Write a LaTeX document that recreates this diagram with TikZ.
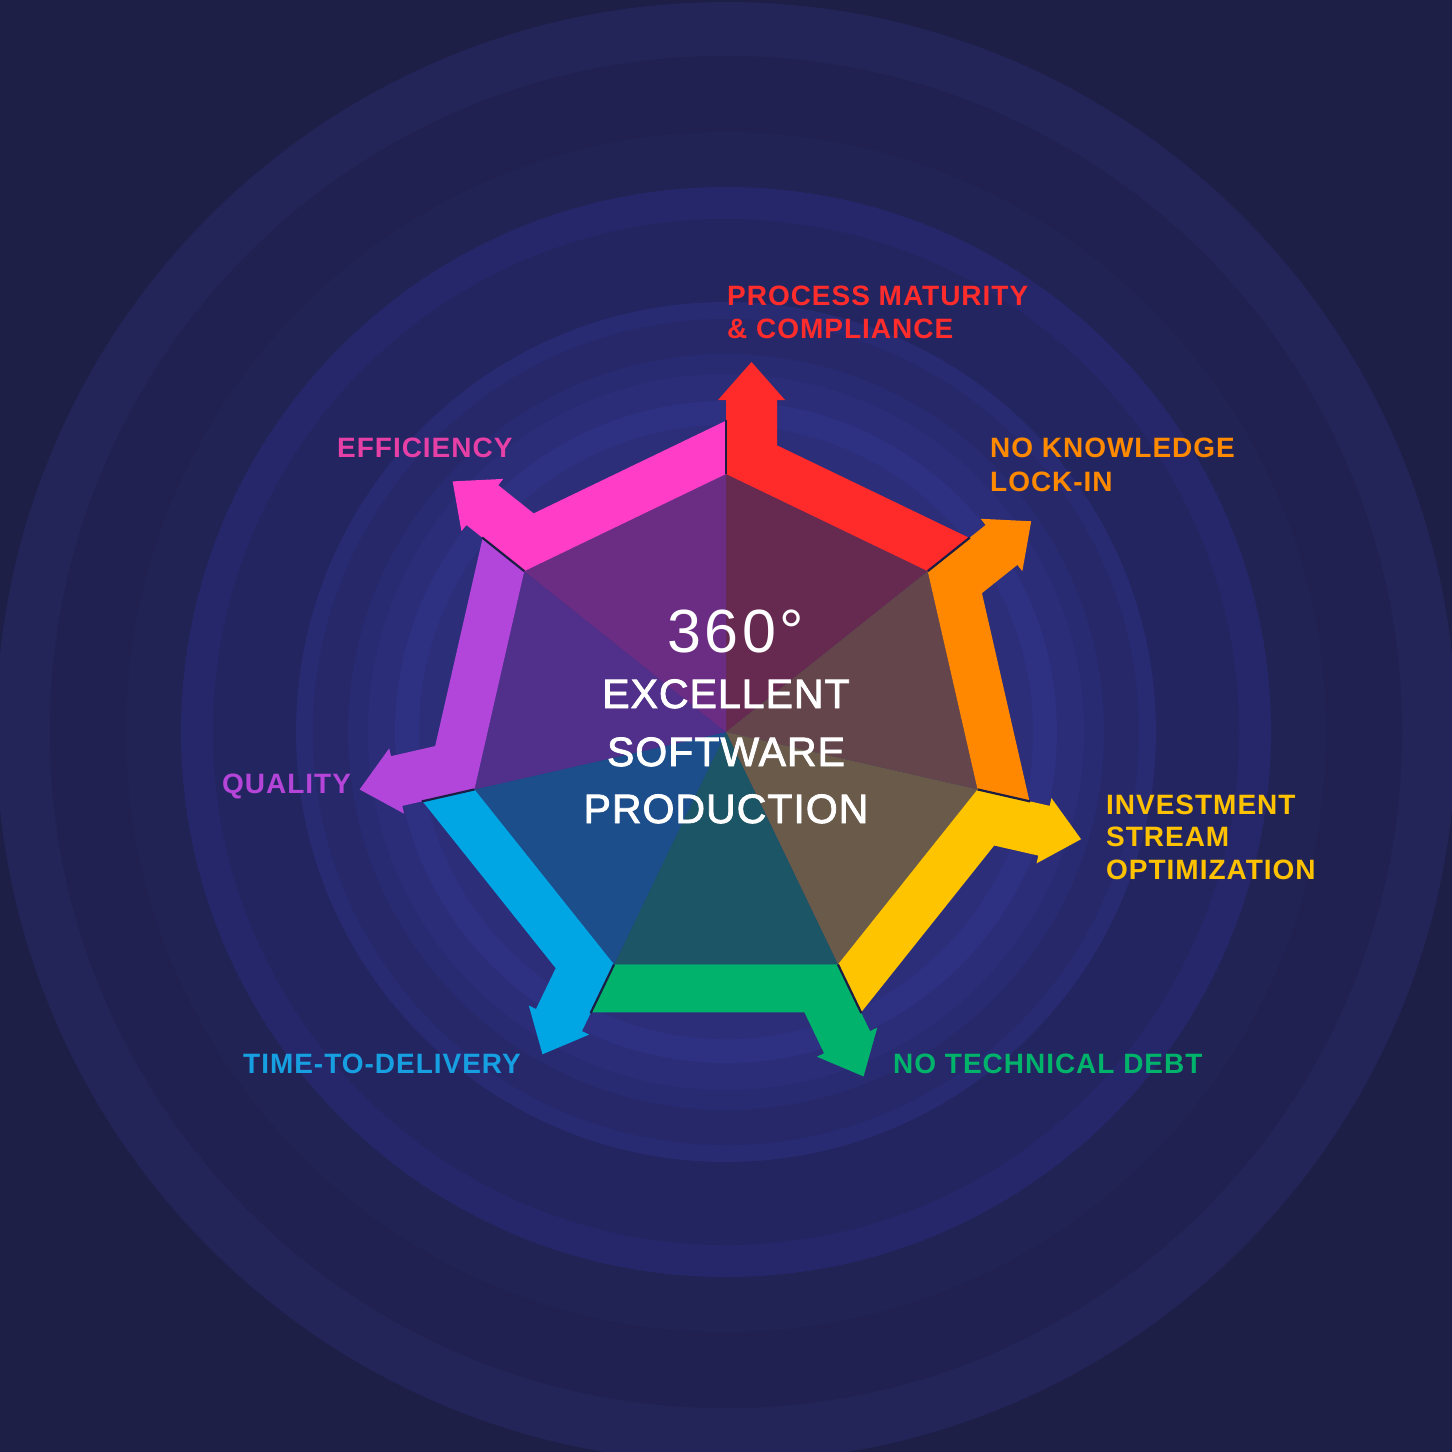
\documentclass[tikz,border=0pt]{standalone}
\usepackage{fontspec}
\setmainfont{Liberation Sans}
\newfontfamily\lblfont[LetterSpace=3.5]{Liberation Sans}
\newfontfamily\ctrfont[LetterSpace=2.5,FakeBold=2]{Liberation Sans}
\newfontfamily\degfont[LetterSpace=6]{Liberation Sans}
\definecolor{bgA}{HTML}{1E1F47}
\definecolor{bgB}{HTML}{232457}
\definecolor{bgC}{HTML}{202150}
\definecolor{bgD}{HTML}{222355}
\definecolor{bgE}{HTML}{25276A}
\definecolor{bgF}{HTML}{232560}
\definecolor{bgG}{HTML}{282A72}
\definecolor{bgH}{HTML}{26286A}
\definecolor{bgI}{HTML}{292B72}
\definecolor{bgJ}{HTML}{2B2D79}
\definecolor{bgK}{HTML}{2E3081}
\definecolor{bgL}{HTML}{2C2E7A}
\definecolor{sepcol}{HTML}{1C1D45}
\definecolor{cRed}{HTML}{FF2A2A}
\definecolor{cOrange}{HTML}{FF8800}
\definecolor{cYellow}{HTML}{FFC400}
\definecolor{cGreen}{HTML}{00B26B}
\definecolor{cBlue}{HTML}{00A6E4}
\definecolor{cPurple}{HTML}{B245DA}
\definecolor{cMagenta}{HTML}{FF3DC6}
\definecolor{tRed}{HTML}{66294F}
\definecolor{tOrange}{HTML}{64454B}
\definecolor{tYellow}{HTML}{6A5A4A}
\definecolor{tGreen}{HTML}{1C5565}
\definecolor{tBlue}{HTML}{1C4E8C}
\definecolor{tPurple}{HTML}{50308A}
\definecolor{tMagenta}{HTML}{6B2D84}
\definecolor{lRed}{HTML}{FF2C2C}
\definecolor{lOrange}{HTML}{FF8A00}
\definecolor{lYellow}{HTML}{FFC200}
\definecolor{lGreen}{HTML}{00B36B}
\definecolor{lBlue}{HTML}{17A0E1}
\definecolor{lPurple}{HTML}{B445D8}
\definecolor{lMagenta}{HTML}{E63FA5}
\begin{document}
\begin{tikzpicture}[x=1pt,y=-1pt,
  lbl/.style={inner sep=0pt, anchor=base west, font=\lblfont\bfseries\fontsize{28}{30}\selectfont},
  ctr/.style={inner sep=0pt, anchor=base, text=white, font=\ctrfont\fontsize{41}{44}\selectfont},
  sepline/.style={draw=sepcol, line width=2.2pt},
]
\useasboundingbox (0,0) rectangle (1452,1452);
\fill[bgA] (0,0) rectangle (1452,1452);
\foreach \r/\c in {730/bgB, 676/bgC, 600/bgD, 545/bgE, 513/bgF, 430/bgG, 413/bgH, 378/bgI, 358/bgJ, 331/bgK, 307/bgL}
  \fill[\c] (726,732) circle[radius=\r];
\coordinate (O) at (726,732);
% triangles and bands
\foreach \k/\bc/\tc in {0/cRed/tRed, 1/cOrange/tOrange, 2/cYellow/tYellow, 3/cGreen/tGreen, 4/cBlue/tBlue, 5/cPurple/tPurple, 6/cMagenta/tMagenta} {
  \pgfmathsetmacro\aa{\k*360/7}
  \pgfmathsetmacro\bb{(\k+1)*360/7}
  \pgfmathsetmacro\sa{sin(\aa)}
  \pgfmathsetmacro\ca{cos(\aa)}
  \pgfmathsetmacro\vx{726+258*\sa}
  \pgfmathsetmacro\vy{732-258*\ca}
  \pgfmathsetmacro\wx{726+258*sin(\bb)}
  \pgfmathsetmacro\wy{732-258*cos(\bb)}
  \pgfmathsetmacro\ex{726+311.3*sin(\bb)}
  \pgfmathsetmacro\ey{732-311.3*cos(\bb)}
  \coordinate (V\k) at (\vx,\vy);
  \coordinate (W\k) at (\wx,\wy);
  \coordinate (E\k) at (\ex,\ey);
  \coordinate (A\k) at ({\vx+74*\sa},{\vy-74*\ca});
  \coordinate (B\k) at ({\vx+74*\sa-8*\ca},{\vy-74*\ca-8*\sa});
  \coordinate (T\k) at ({\vx+112*\sa+25.5*\ca},{\vy-112*\ca+25.5*\sa});
  \coordinate (D\k) at ({\vx+74*\sa+59*\ca},{\vy-74*\ca+59*\sa});
  \coordinate (F\k) at ({\vx+74*\sa+51*\ca},{\vy-74*\ca+51*\sa});
  \coordinate (C\k) at ({\vx+28.7*\sa+51*\ca},{\vy-28.7*\ca+51*\sa});
  \coordinate (S\k) at ({\vx+54*\sa},{\vy-54*\ca});
  \fill[\tc] (O) -- (V\k) -- (W\k) -- cycle;
  \fill[\bc] (V\k) -- (A\k) -- (B\k) -- (T\k) -- (D\k) -- (F\k) -- (C\k) -- (E\k) -- (W\k) -- cycle;
}
\foreach \k in {0,...,6} \draw[sepline] (V\k) -- (S\k);
% centre text
\node[inner sep=0pt, anchor=base west, text=white, font=\degfont\fontsize{61}{63}\selectfont] (deg) at (667,652) {360°};
\node[ctr] (exc) at (726,708) {EXCELLENT};
\node[ctr] (sw) at (726,766) {SOFTWARE};
\node[ctr] (prod) at (726,823) {PRODUCTION};
% labels
\node[lbl, text=lRed] (pm1) at (727,305) {PROCESS MATURITY};
\node[lbl, text=lRed] (pm2) at (727,338) {\& COMPLIANCE};
\node[lbl, text=lOrange] (nk1) at (990,457) {NO KNOWLEDGE};
\node[lbl, text=lOrange] (nk2) at (990,491) {LOCK-IN};
\node[lbl, text=lYellow] (is1) at (1106,814) {INVESTMENT};
\node[lbl, text=lYellow] (is2) at (1106,846) {STREAM};
\node[lbl, text=lYellow] (is3) at (1106,879) {OPTIMIZATION};
\node[lbl, text=lGreen] (ntd) at (893,1073) {NO TECHNICAL DEBT};
\node[lbl, text=lBlue] (ttd) at (243,1073) {TIME-TO-DELIVERY};
\node[lbl, text=lPurple] (qual) at (222,793) {QUALITY};
\node[lbl, text=lMagenta] (eff) at (337,457) {EFFICIENCY};
\end{tikzpicture}
\end{document}
